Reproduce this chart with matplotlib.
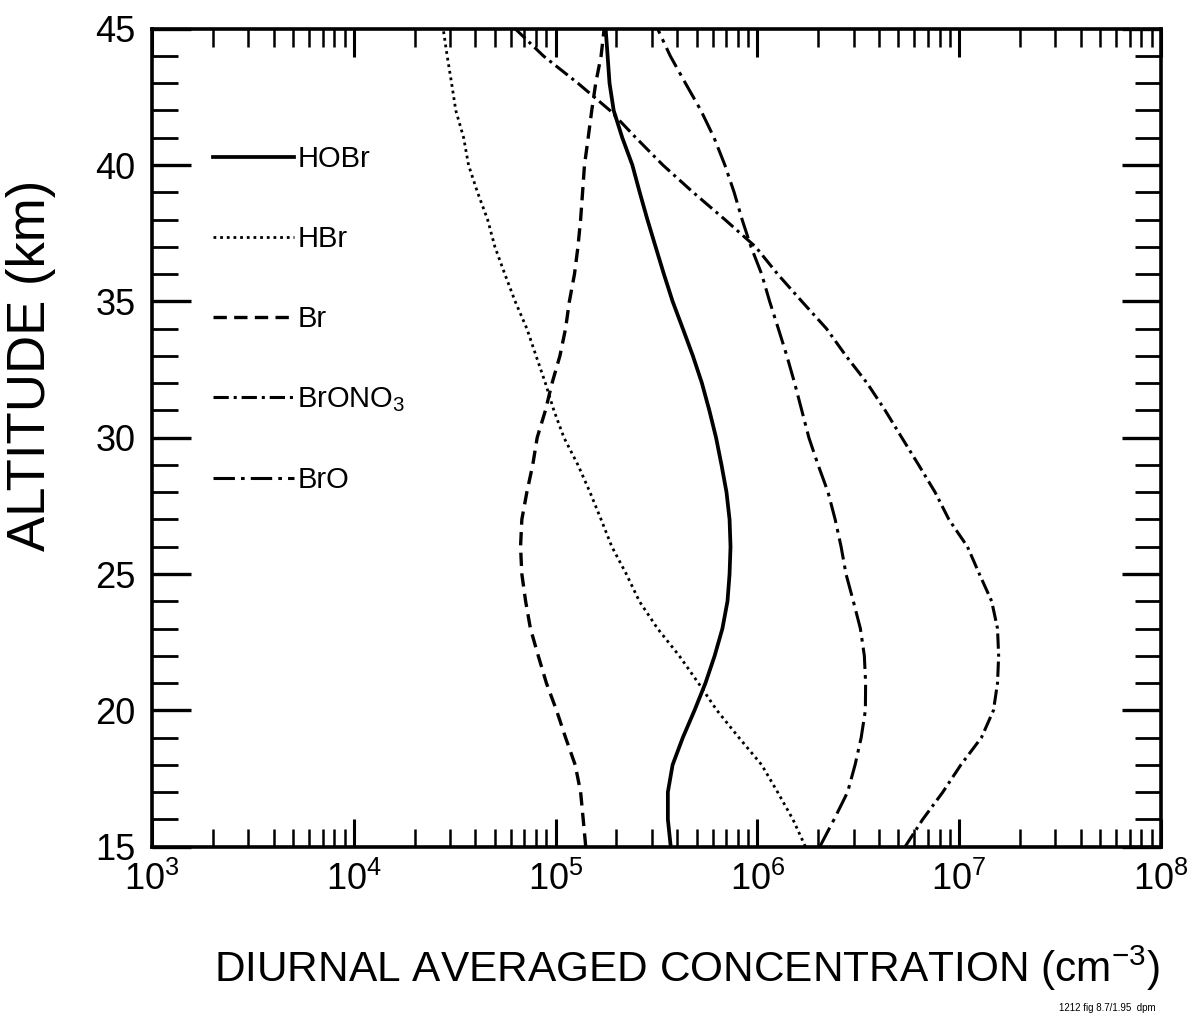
#!/usr/bin/env python3
"""
Diurnal averaged bromine species profiles (altitude vs concentration).
"""

import matplotlib
matplotlib.use("Agg")
import matplotlib.pyplot as plt
from matplotlib.ticker import LogLocator, MultipleLocator, NullFormatter

plt.rcParams['font.family'] = ['Liberation Sans', 'DejaVu Sans']
plt.rcParams['mathtext.fontset'] = 'custom'
plt.rcParams['mathtext.rm'] = 'Liberation Sans'

# altitude grid (km), shared by all species
altitude = [15, 16, 17, 18, 19, 20, 21, 22, 23, 24, 25, 26, 27, 28, 29, 30,
            31, 32, 33, 34, 35, 36, 37, 38, 39, 40, 41, 42, 43, 44, 45]

# concentrations (cm^-3)
hobr = [3.72e5, 3.60e5, 3.60e5, 3.80e5, 4.27e5, 4.88e5, 5.53e5, 6.14e5, 6.71e5,
        7.11e5, 7.28e5, 7.36e5, 7.28e5, 7.03e5, 6.64e5, 6.24e5, 5.78e5, 5.31e5,
        4.79e5, 4.27e5, 3.80e5, 3.44e5, 3.13e5, 2.85e5, 2.61e5, 2.40e5, 2.14e5,
        1.94e5, 1.85e5, 1.81e5, 1.77e5]
hbr = [1.73e6, 1.50e6, 1.26e6, 1.05e6, 8.1e5, 6.3e5, 5.1e5, 4.1e5, 3.2e5,
       2.6e5, 2.24e5, 1.9e5, 1.68e5, 1.48e5, 1.29e5, 1.10e5, 9.8e4, 8.9e4,
       8.0e4, 7.2e4, 6.3e4, 5.6e4, 5.0e4, 4.6e4, 4.1e4, 3.7e4, 3.5e4,
       3.2e4, 3.05e4, 2.9e4, 2.77e4]
br = [1.41e5, 1.37e5, 1.33e5, 1.25e5, 1.12e5, 1.01e5, 9.0e4, 8.2e4, 7.5e4,
      7.1e4, 6.8e4, 6.7e4, 6.8e4, 7.2e4, 7.7e4, 8.1e4, 8.9e4, 9.6e4,
      1.05e5, 1.12e5, 1.17e5, 1.24e5, 1.29e5, 1.33e5, 1.36e5, 1.39e5, 1.45e5,
      1.51e5, 1.58e5, 1.68e5, 1.74e5]
brono3 = [5.4e6, 6.6e6, 8.3e6, 1.02e7, 1.29e7, 1.48e7, 1.55e7, 1.57e7, 1.55e7,
          1.45e7, 1.26e7, 1.10e7, 8.9e6, 7.6e6, 6.3e6, 5.2e6, 4.3e6, 3.5e6,
          2.75e6, 2.2e6, 1.66e6, 1.26e6, 9.8e5, 6.9e5, 4.8e5, 3.4e5, 2.5e5,
          1.86e5, 1.29e5, 8.7e4, 6.3e4]
bro = [2.04e6, 2.4e6, 2.8e6, 3.05e6, 3.27e6, 3.43e6, 3.44e6, 3.39e6, 3.24e6,
       2.99e6, 2.75e6, 2.6e6, 2.43e6, 2.24e6, 2.0e6, 1.8e6, 1.66e6, 1.53e6,
       1.40e6, 1.27e6, 1.15e6, 1.05e6, 9.3e5, 8.4e5, 7.67e5, 6.9e5, 6.1e5,
       5.25e5, 4.4e5, 3.7e5, 3.2e5]

x_ticks = [1e3, 1e4, 1e5, 1e6, 1e7, 1e8]
x_ticklabels = [r'$\mathregular{10^{3}}$', r'$\mathregular{10^{4}}$',
                r'$\mathregular{10^{5}}$', r'$\mathregular{10^{6}}$',
                r'$\mathregular{10^{7}}$', r'$\mathregular{10^{8}}$']
y_ticks = [15, 20, 25, 30, 35, 40, 45]


def main():
    fig = plt.figure(figsize=(11.98, 10.25), dpi=100)
    ax = fig.add_axes([0.127, 0.174, 0.842, 0.798])

    ax.plot(hobr, altitude, color='black', lw=2.7, ls='-', label='HOBr')
    ax.plot(hbr, altitude, color='black', lw=2.0, ls=(0, (1.0, 1.4)), label='HBr')
    ax.plot(br, altitude, color='black', lw=2.4, ls=(0, (4, 2.2)), label='Br')
    ax.plot(brono3, altitude, color='black', lw=2.2, ls=(0, (5, 1.6, 1, 1.6)),
            label=r'BrONO$_3$')
    ax.plot(bro, altitude, color='black', lw=2.2, ls=(0, (7, 2, 1.2, 2)), label='BrO')

    ax.set_xscale('log')
    ax.set_xlim(1e3, 1e8)
    ax.set_ylim(15, 45)

    ax.set_xticks(x_ticks)
    ax.set_xticklabels(x_ticklabels)
    ax.xaxis.set_minor_locator(LogLocator(base=10, subs=range(2, 10), numticks=20))
    ax.xaxis.set_minor_formatter(NullFormatter())
    ax.set_yticks(y_ticks)
    ax.yaxis.set_minor_locator(MultipleLocator(1))

    ax.tick_params(axis='both', which='both', direction='in',
                   top=True, right=True, color='black')
    ax.tick_params(axis='x', which='major', length=20, width=2.2,
                   labelsize=26, pad=11)
    ax.tick_params(axis='x', which='minor', length=13, width=1.8)
    ax.tick_params(axis='y', which='major', length=28, width=2.4,
                   labelsize=26, pad=12)
    ax.tick_params(axis='y', which='minor', length=19, width=2.0)
    for spine in ax.spines.values():
        spine.set_linewidth(2.6)

    ax.set_xlabel(r'DIURNAL AVERAGED CONCENTRATION (cm$^{\mathregular{-3}}$)',
                  fontsize=30.5)
    ax.xaxis.set_label_coords(0.53, -0.118)
    ax.set_ylabel('ALTITUDE (km)', fontsize=38)
    ax.yaxis.set_label_coords(-0.095, 0.589)

    ax.legend(loc='upper left', bbox_to_anchor=(0.06, 0.858), frameon=False,
              fontsize=21, handlelength=2.8, handletextpad=0.1,
              labelspacing=1.79, borderpad=0, borderaxespad=0)

    fig.text(0.965, 0.012, '1212 fig 8.7/1.95  dpm', fontsize=7,
             ha='right', va='bottom')

    fig.savefig('out.png', dpi=100)


if __name__ == "__main__":
    main()
